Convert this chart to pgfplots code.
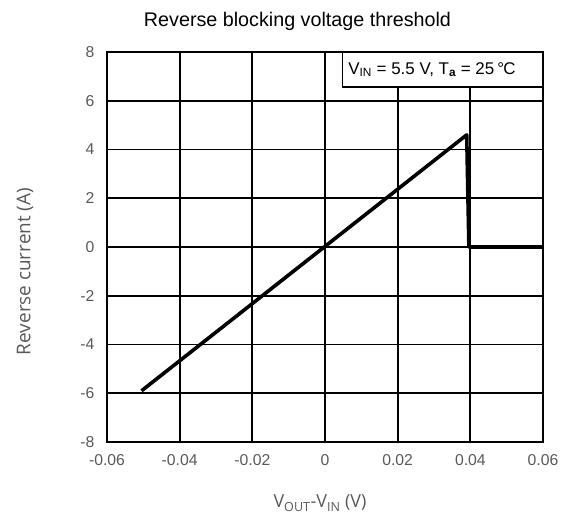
\documentclass[border=0pt]{standalone}
\usepackage{pgfplots}
\pgfplotsset{compat=1.18}
\usepackage{fontspec}
\setmainfont{Liberation Sans}
\newfontfamily\labfont{Open Sans}
\definecolor{tickgray}{HTML}{595959}
\begin{document}
\begin{tikzpicture}[x=1bp,y=1bp]
\path (0,0) rectangle (563,517);
\begin{axis}[at={(107bp,75bp)}, anchor=south west, scale only axis,
  width=436bp, height=390bp,
  xmin=-0.06, xmax=0.06, ymin=-8, ymax=8,
  scaled x ticks=false, scaled y ticks=false,
  xtick={-0.06,-0.04,-0.02,0,0.02,0.04,0.06},
  xticklabels={-0.06,-0.04,-0.02,0,0.02,0.04,0.06},
  ytick={-8,-6,-4,-2,0,2,4,6,8},
  yticklabels={-8,-6,-4,-2,0,2,4,6,8},
  grid=major, major grid style={black, line width=1.9bp},
  axis line style={black, line width=2.2bp},
  tick style={draw=none},
  ticklabel style={font=\fontsize{15.8}{18}\selectfont, text=tickgray},
  xticklabel style={yshift=-9bp},
  yticklabel style={xshift=-9bp},
  clip=true,
]
\addplot[black, line width=3.6bp, line join=round] coordinates {
  (-0.0505,-5.9) (0.0390,4.6) (0.0396,0) (0.06,0)
};
\draw[black, line width=1.2bp, fill=white] (rel axis cs:0.541,0.910) rectangle (rel axis cs:1,1);
\node[anchor=west, font=\fontsize{17}{20}\selectfont, inner sep=0pt] at (rel axis cs:0.553,0.955)
  {V\textsubscript{IN} = 5.5 V, T\textsubscript{\textbf{a}} = 25 \kern-0.1em°\kern-0.05em C};
\draw[black, line width=2.2bp] (rel axis cs:0,0) rectangle (rel axis cs:1,1);
\end{axis}
\node[font=\fontsize{19.8}{22}\selectfont] at (297.5,496) {Reverse blocking voltage threshold};
\node[rotate=90, font=\labfont\fontsize{19}{22}\selectfont, text=tickgray] at (25,245.5) {Reverse current (A)};
\node[anchor=base, font=\labfont\fontsize{18}{20}\selectfont, text=tickgray] at (320,9) {V\textsubscript{OUT}-V\textsubscript{IN} (V)};
\end{tikzpicture}
\end{document}
